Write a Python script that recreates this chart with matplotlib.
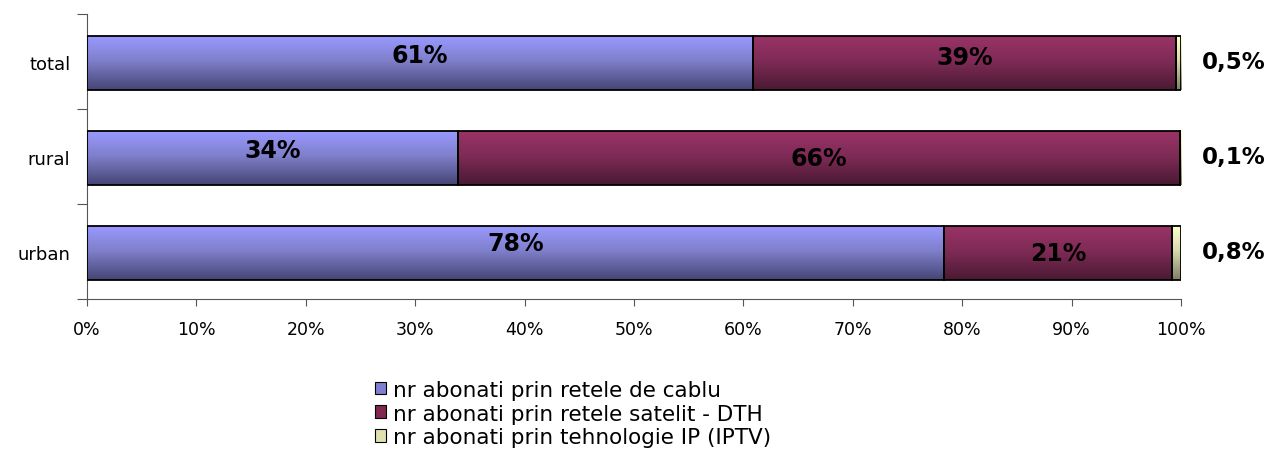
import numpy as np
import matplotlib
matplotlib.use("Agg")
import matplotlib.pyplot as plt
from matplotlib.colors import LinearSegmentedColormap
from matplotlib.patches import Patch

# date
categorii = ["urban", "rural", "total"]
cablu = [78.3, 33.9, 60.9]
satelit = [20.9, 66.0, 38.6]
iptv = [0.8, 0.1, 0.5]
etichete_cablu = ["78%", "34%", "61%"]
etichete_satelit = ["21%", "66%", "39%"]
etichete_iptv = ["0,8%", "0,1%", "0,5%"]
serii = ["nr abonati prin retele de cablu",
         "nr abonati prin retele satelit - DTH",
         "nr abonati prin tehnologie IP (IPTV)"]

# deplasari verticale ale etichetelor (ca in Excel)
dy_cablu = [0.09, 0.07, 0.07]
dy_satelit = [0.0, 0.0, 0.07]

# culori (jos -> sus), gradient vertical
culori = [
    [(0.27, 0.27, 0.46), (0.50, 0.50, 0.80), (0.60, 0.60, 1.00)],
    [(0.29, 0.10, 0.20), (0.50, 0.17, 0.34), (0.60, 0.20, 0.40)],
    [(0.50, 0.50, 0.40), (0.85, 0.85, 0.68), (1.00, 1.00, 0.80)],
]
culori_legenda = ["#7f7fd0", "#80284f", "#e0e0b0"]

fig = plt.figure(figsize=(12.7, 4.56), dpi=100)
ax = fig.add_axes([0.0685, 0.3421, 0.8615, 0.6249])

inaltime = 0.56
grad = np.linspace(0, 1, 100).reshape(-1, 1)

def bara_gradient(y, stanga, latime, stops):
    cmap = LinearSegmentedColormap.from_list("g", list(zip([0.0, 0.55, 1.0], stops)))
    y = y - 0.015
    bar = ax.barh(y, latime, left=stanga, height=inaltime, facecolor="none",
                  edgecolor="black", linewidth=1.3, zorder=3)[0]
    im = ax.imshow(grad, extent=[stanga, stanga + latime, y - inaltime / 2, y + inaltime / 2],
                   origin="lower", aspect="auto", cmap=cmap, zorder=2)
    im.set_clip_path(bar)

for i in range(len(categorii)):
    bara_gradient(i, 0, cablu[i], culori[0])
    bara_gradient(i, cablu[i], satelit[i], culori[1])
    bara_gradient(i, cablu[i] + satelit[i], iptv[i], culori[2])
    ax.text(cablu[i] / 2, i + dy_cablu[i], etichete_cablu[i], ha="center", va="center",
            fontsize=17, fontweight="bold", zorder=4)
    ax.text(cablu[i] + satelit[i] / 2, i - 0.02 + dy_satelit[i], etichete_satelit[i],
            ha="center", va="center", fontsize=17, fontweight="bold", zorder=4)
    ax.text(101.9, i, etichete_iptv[i], ha="left", va="center",
            fontsize=16.5, fontweight="bold", clip_on=False)

ax.set_xlim(0, 100)
ax.set_ylim(-0.5, 2.5)
ax.set_xticks(np.arange(0, 101, 10))
ax.set_xticklabels([f"{v}%" for v in range(0, 101, 10)], fontsize=12.5)
ax.tick_params(axis="x", direction="out", length=5, pad=10, color="#555555")

ax.set_yticks([-0.5, 0.5, 1.5, 2.5])
ax.set_yticklabels([])
ax.tick_params(axis="y", which="major", direction="out", length=7, color="#555555")
ax.set_yticks([0, 1, 2], minor=True)
ax.set_yticklabels(categorii, minor=True, fontsize=13)
ax.tick_params(axis="y", which="minor", length=0, pad=12)

for s in ["top", "right"]:
    ax.spines[s].set_visible(False)
ax.spines["left"].set_color("#555555")
ax.spines["bottom"].set_color("#555555")

handles = [Patch(facecolor=c, edgecolor="black", linewidth=0.8) for c in culori_legenda]
fig.legend(handles, serii, loc="center left", bbox_to_anchor=(0.2865, 0.091),
           frameon=False, fontsize=15.5, handlelength=0.55, handleheight=0.55,
           handletextpad=0.3, labelspacing=0.18, borderpad=0)

fig.savefig("out.png", dpi=100)
